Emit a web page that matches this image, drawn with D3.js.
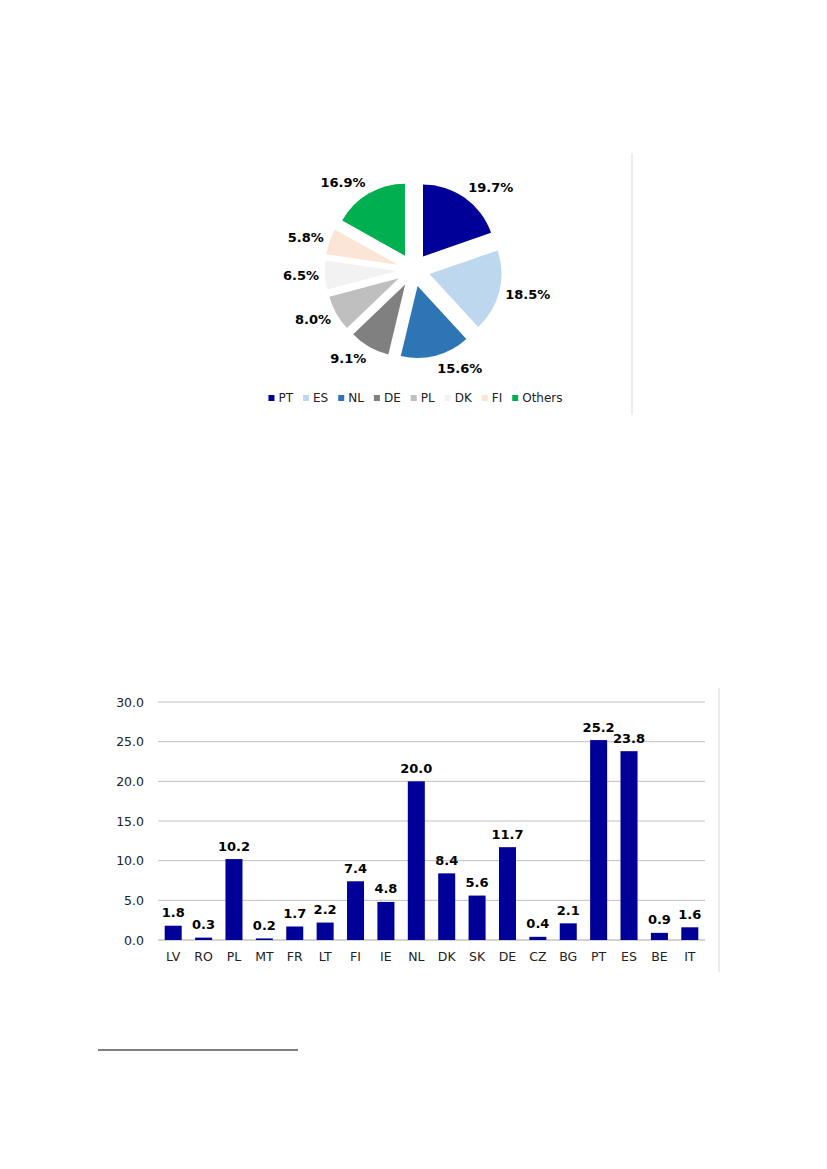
<!DOCTYPE html>
<html>
<head>
<meta charset="utf-8">
<script src="https://cdn.jsdelivr.net/npm/d3@7"></script>
<style>
  body { margin: 0; background: #fff; }
  svg text { font-family: "DejaVu Sans", Verdana, sans-serif; fill: #000; }
</style>
</head>
<body>
<svg id="page" width="827" height="1169"></svg>
<script>
'use strict';

// pie chart: shares (%)
const pieLabels = ['PT', 'ES', 'NL', 'DE', 'PL', 'DK', 'FI', 'Others'];
const pieValues = [19.7, 18.5, 15.6, 9.1, 8.0, 6.5, 5.8, 16.9];
const pieColors = ['#000099', '#bdd7ee', '#2e75b6', '#808080', '#bfbfbf', '#f2f2f2', '#fbe5d6', '#00b050'];

// bar chart
const barCategories = ['LV', 'RO', 'PL', 'MT', 'FR', 'LT', 'FI', 'IE', 'NL', 'DK', 'SK', 'DE', 'CZ', 'BG', 'PT', 'ES', 'BE', 'IT'];
const barValues = [1.8, 0.3, 10.2, 0.2, 1.7, 2.2, 7.4, 4.8, 20.0, 8.4, 5.6, 11.7, 0.4, 2.1, 25.2, 23.8, 0.9, 1.6];
const yTicks = [0, 5, 10, 15, 20, 25, 30];

const svg = d3.select('#page');

/**
 * Exploded pie with outside-end labels and a legend underneath.
 */
function drawPie() {
    const cx = 413.4, cy = 270, r = 72, explode = 16.6, gap = 6;

    const pie = d3.pie().sort(null).value(d => d.v);
    const arc = d3.arc().innerRadius(0).outerRadius(r);
    const data = pie(pieValues.map((v, i) => ({v: v, k: pieLabels[i], c: pieColors[i]})));

    const g = svg.append('g').attr('transform', 'translate(' + cx + ',' + cy + ')');

    const slices = g.selectAll('g.slice')
        .data(data)
        .enter()
        .append('g')
        .classed('slice', true)
        .attr('transform', d => {
            const a = (d.startAngle + d.endAngle) / 2;
            return 'translate(' + (explode * Math.sin(a)) + ',' + (-explode * Math.cos(a)) + ')';
        });

    slices.append('path')
        .attr('d', arc)
        .style('fill', d => d.data.c);

    // labels sit just outside each exploded slice
    slices.append('text')
        .text(d => d.data.v.toFixed(1) + '%')
        .attr('font-size', 13)
        .attr('font-weight', 'bold')
        .attr('text-anchor', 'middle')
        .attr('dy', '0.35em')
        .each(function(d) {
            const a = (d.startAngle + d.endAngle) / 2;
            const ux = Math.sin(a), uy = -Math.cos(a);
            const w = this.getComputedTextLength();
            const x = (r + gap) * ux + Math.sign(ux) * w / 2;
            const y = (r + gap) * uy + uy * 7;
            d3.select(this).attr('x', x).attr('y', y);
        });

    // legend
    const legend = svg.append('g');
    let x = 0;
    pieLabels.forEach((k, i) => {
        const item = legend.append('g').attr('transform', 'translate(' + x + ',0)');
        item.append('rect')
            .attr('x', 0).attr('y', -3)
            .attr('width', 6).attr('height', 6)
            .style('fill', pieColors[i]);
        const t = item.append('text')
            .attr('x', 10).attr('dy', '0.35em')
            .attr('font-size', 12)
            .style('fill', '#222')
            .text(k);
        x += 10 + t.node().getComputedTextLength() + 10;
    });
    legend.attr('transform', 'translate(' + (415.5 - (x - 10) / 2) + ',398)');

    svg.append('line')
        .attr('x1', 632).attr('x2', 632)
        .attr('y1', 153).attr('y2', 415)
        .style('stroke', '#d9d9d9');
}

/**
 * Column chart with value labels on top of each bar.
 */
function drawBars() {
    const x = d3.scaleBand()
        .domain(barCategories)
        .range([158, 705])
        .paddingInner(0.44)
        .paddingOuter(0.22);

    const y = d3.scaleLinear().domain([0, 30]).range([940, 702]);

    const g = svg.append('g');

    g.selectAll('line.grid')
        .data(yTicks)
        .enter()
        .append('line')
        .classed('grid', true)
        .attr('x1', 158).attr('x2', 705)
        .attr('y1', d => y(d)).attr('y2', d => y(d))
        .style('stroke', d => d === 0 ? '#a6a6a6' : '#bfbfbf');

    const yAxis = d3.axisLeft(y).tickValues(yTicks).tickFormat(d3.format('.1f')).tickSize(0).tickPadding(0);
    g.append('g')
        .attr('transform', 'translate(144,0)')
        .call(yAxis)
        .call(s => s.select('.domain').remove())
        .selectAll('text')
        .attr('font-size', 12.5)
        .style('font-family', '"DejaVu Sans", Verdana, sans-serif')
        .style('fill', '#222');

    const xAxis = d3.axisBottom(x).tickSize(0).tickPadding(0);
    g.append('g')
        .attr('transform', 'translate(0,952)')
        .call(xAxis)
        .call(s => s.select('.domain').remove())
        .selectAll('text')
        .attr('font-size', 12.5)
        .style('font-family', '"DejaVu Sans", Verdana, sans-serif')
        .style('fill', '#222');

    g.selectAll('rect.bar')
        .data(barValues)
        .enter()
        .append('rect')
        .classed('bar', true)
        .attr('x', (d, i) => x(barCategories[i]))
        .attr('y', d => y(d))
        .attr('width', x.bandwidth())
        .attr('height', d => y(0) - y(d))
        .style('fill', '#000099');

    g.selectAll('text.val')
        .data(barValues)
        .enter()
        .append('text')
        .classed('val', true)
        .attr('x', (d, i) => x(barCategories[i]) + x.bandwidth() / 2)
        .attr('y', d => y(d) - 8.5)
        .attr('text-anchor', 'middle')
        .attr('font-size', 13)
        .attr('font-weight', 'bold')
        .text(d => d.toFixed(1));

    svg.append('line')
        .attr('x1', 719).attr('x2', 719)
        .attr('y1', 688).attr('y2', 972)
        .style('stroke', '#d9d9d9');
}

drawPie();
drawBars();

// footnote separator
svg.append('line')
    .attr('x1', 98).attr('x2', 298)
    .attr('y1', 1050).attr('y2', 1050)
    .style('stroke', '#000')
    .style('stroke-width', 1.2);
</script>
</body>
</html>
